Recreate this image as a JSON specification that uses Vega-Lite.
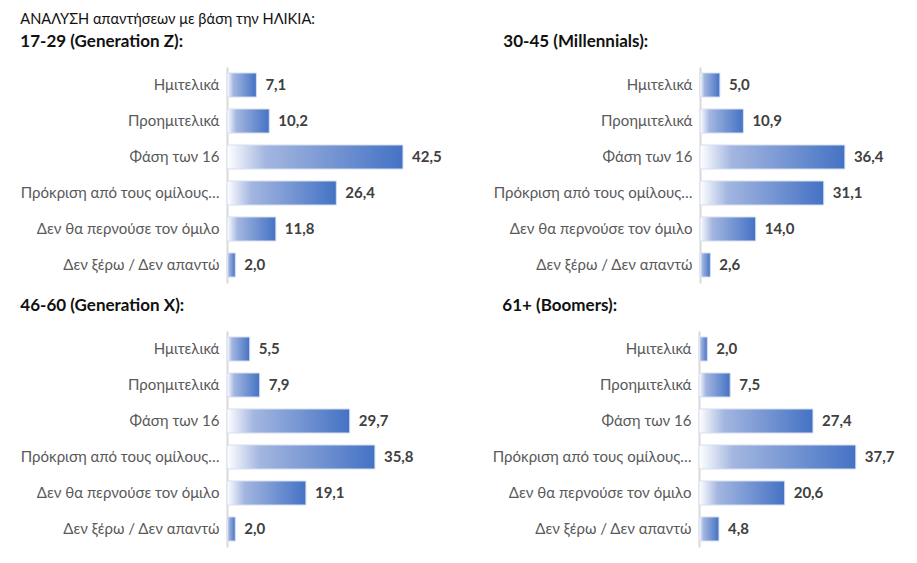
{
  "$schema": "https://vega.github.io/schema/vega-lite/v6.json",
  "padding": {"left": 20, "top": 12, "right": 5, "bottom": 5},
  "background": "white",
  "title": {"text": "ΑΝΑΛΥΣΗ απαντήσεων με βάση την ΗΛΙΚΙΑ:", "anchor": "start", "frame": "bounds", "fontSize": 14.6, "fontWeight": "normal", "font": "Lato", "color": "#111111", "offset": 6},
  "config": {
    "locale": {"number": {"decimal": ",", "thousands": ".", "grouping": [3], "currency": ["", " €"]}},
    "view": {"stroke": null},
    "font": "Lato"
  },
  "datasets": {
    "survey": [
      {"group": "17-29 (Generation Z):", "category": "Ημιτελικά", "value": 7.1},
      {"group": "17-29 (Generation Z):", "category": "Προημιτελικά", "value": 10.2},
      {"group": "17-29 (Generation Z):", "category": "Φάση των 16", "value": 42.5},
      {"group": "17-29 (Generation Z):", "category": "Πρόκριση από τους ομίλους…", "value": 26.4},
      {"group": "17-29 (Generation Z):", "category": "Δεν θα περνούσε τον όμιλο", "value": 11.8},
      {"group": "17-29 (Generation Z):", "category": "Δεν ξέρω / Δεν απαντώ", "value": 2.0},
      {"group": "30-45 (Millennials):", "category": "Ημιτελικά", "value": 5.0},
      {"group": "30-45 (Millennials):", "category": "Προημιτελικά", "value": 10.9},
      {"group": "30-45 (Millennials):", "category": "Φάση των 16", "value": 36.4},
      {"group": "30-45 (Millennials):", "category": "Πρόκριση από τους ομίλους…", "value": 31.1},
      {"group": "30-45 (Millennials):", "category": "Δεν θα περνούσε τον όμιλο", "value": 14.0},
      {"group": "30-45 (Millennials):", "category": "Δεν ξέρω / Δεν απαντώ", "value": 2.6},
      {"group": "46-60 (Generation X):", "category": "Ημιτελικά", "value": 5.5},
      {"group": "46-60 (Generation X):", "category": "Προημιτελικά", "value": 7.9},
      {"group": "46-60 (Generation X):", "category": "Φάση των 16", "value": 29.7},
      {"group": "46-60 (Generation X):", "category": "Πρόκριση από τους ομίλους…", "value": 35.8},
      {"group": "46-60 (Generation X):", "category": "Δεν θα περνούσε τον όμιλο", "value": 19.1},
      {"group": "46-60 (Generation X):", "category": "Δεν ξέρω / Δεν απαντώ", "value": 2.0},
      {"group": "61+ (Boomers):", "category": "Ημιτελικά", "value": 2.0},
      {"group": "61+ (Boomers):", "category": "Προημιτελικά", "value": 7.5},
      {"group": "61+ (Boomers):", "category": "Φάση των 16", "value": 27.4},
      {"group": "61+ (Boomers):", "category": "Πρόκριση από τους ομίλους…", "value": 37.7},
      {"group": "61+ (Boomers):", "category": "Δεν θα περνούσε τον όμιλο", "value": 20.6},
      {"group": "61+ (Boomers):", "category": "Δεν ξέρω / Δεν απαντώ", "value": 4.8}
    ]
  },
  "data": {"name": "survey"},
  "spacing": 14,
  "vconcat": [
    {
      "spacing": 51,
      "hconcat": [
        {
          "title": {"text": "17-29 (Generation Z):", "anchor": "start", "frame": "bounds", "fontSize": 17, "fontWeight": "bold", "color": "#111111", "offset": 16},
          "width": 200, "height": 216,
          "transform": [{"filter": "datum.group === '17-29 (Generation Z):'"}],
          "encoding": {
            "y": {"field": "category", "type": "nominal", "sort": null, "scale": {"paddingInner": 0.333, "paddingOuter": 0.167},
                  "axis": {"title": null, "ticks": false, "domainColor": "#d9d9d9", "domainWidth": 2, "labelPadding": 8, "labelFontSize": 15, "labelColor": "#595959", "labelLimit": 300}},
            "x": {"field": "value", "type": "quantitative", "scale": {"domain": [0, 48.3], "nice": false}, "axis": null}
          },
          "layer": [
            {"mark": {"type": "bar", "stroke": "#d6def0", "strokeWidth": 1, "color": {"gradient": "linear", "x1": 0, "y1": 0, "x2": 1, "y2": 0, "stops": [{"offset": 0, "color": "#ffffff"}, {"offset": 0.22, "color": "#a3b6e0"}, {"offset": 1, "color": "#4472c4"}]}}},
            {"mark": {"type": "text", "align": "left", "dx": 9, "fontSize": 15, "fontWeight": "bold", "color": "#404040"}, "encoding": {"text": {"field": "value", "type": "quantitative", "format": ".1f"}}}
          ]
        },
        {
          "title": {"text": "30-45 (Millennials):", "anchor": "start", "frame": "bounds", "fontSize": 17, "fontWeight": "bold", "color": "#111111", "offset": 16, "dx": 10},
          "width": 200, "height": 216,
          "transform": [{"filter": "datum.group === '30-45 (Millennials):'"}],
          "encoding": {
            "y": {"field": "category", "type": "nominal", "sort": null, "scale": {"paddingInner": 0.333, "paddingOuter": 0.167},
                  "axis": {"title": null, "ticks": false, "domainColor": "#d9d9d9", "domainWidth": 2, "labelPadding": 8, "labelFontSize": 15, "labelColor": "#595959", "labelLimit": 300}},
            "x": {"field": "value", "type": "quantitative", "scale": {"domain": [0, 50.25], "nice": false}, "axis": null}
          },
          "layer": [
            {"mark": {"type": "bar", "stroke": "#d6def0", "strokeWidth": 1, "color": {"gradient": "linear", "x1": 0, "y1": 0, "x2": 1, "y2": 0, "stops": [{"offset": 0, "color": "#ffffff"}, {"offset": 0.22, "color": "#a3b6e0"}, {"offset": 1, "color": "#4472c4"}]}}},
            {"mark": {"type": "text", "align": "left", "dx": 9, "fontSize": 15, "fontWeight": "bold", "color": "#404040"}, "encoding": {"text": {"field": "value", "type": "quantitative", "format": ".1f"}}}
          ]
        }
      ]
    },
    {
      "spacing": 65,
      "hconcat": [
        {
          "title": {"text": "46-60 (Generation X):", "anchor": "start", "frame": "bounds", "fontSize": 17, "fontWeight": "bold", "color": "#111111", "offset": 16},
          "width": 200, "height": 216,
          "transform": [{"filter": "datum.group === '46-60 (Generation X):'"}],
          "encoding": {
            "y": {"field": "category", "type": "nominal", "sort": null, "scale": {"paddingInner": 0.333, "paddingOuter": 0.167},
                  "axis": {"title": null, "ticks": false, "domainColor": "#d9d9d9", "domainWidth": 2, "labelPadding": 8, "labelFontSize": 15, "labelColor": "#595959", "labelLimit": 300}},
            "x": {"field": "value", "type": "quantitative", "scale": {"domain": [0, 48.4], "nice": false}, "axis": null}
          },
          "layer": [
            {"mark": {"type": "bar", "stroke": "#d6def0", "strokeWidth": 1, "color": {"gradient": "linear", "x1": 0, "y1": 0, "x2": 1, "y2": 0, "stops": [{"offset": 0, "color": "#ffffff"}, {"offset": 0.22, "color": "#a3b6e0"}, {"offset": 1, "color": "#4472c4"}]}}},
            {"mark": {"type": "text", "align": "left", "dx": 9, "fontSize": 15, "fontWeight": "bold", "color": "#404040"}, "encoding": {"text": {"field": "value", "type": "quantitative", "format": ".1f"}}}
          ]
        },
        {
          "title": {"text": "61+ (Boomers):", "anchor": "start", "frame": "bounds", "fontSize": 17, "fontWeight": "bold", "color": "#111111", "offset": 16, "dx": 10},
          "width": 200, "height": 216,
          "transform": [{"filter": "datum.group === '61+ (Boomers):'"}],
          "encoding": {
            "y": {"field": "category", "type": "nominal", "sort": null, "scale": {"paddingInner": 0.333, "paddingOuter": 0.167},
                  "axis": {"title": null, "ticks": false, "domainColor": "#d9d9d9", "domainWidth": 2, "labelPadding": 8, "labelFontSize": 15, "labelColor": "#595959", "labelLimit": 300}},
            "x": {"field": "value", "type": "quantitative", "scale": {"domain": [0, 48.08], "nice": false}, "axis": null}
          },
          "layer": [
            {"mark": {"type": "bar", "stroke": "#d6def0", "strokeWidth": 1, "color": {"gradient": "linear", "x1": 0, "y1": 0, "x2": 1, "y2": 0, "stops": [{"offset": 0, "color": "#ffffff"}, {"offset": 0.22, "color": "#a3b6e0"}, {"offset": 1, "color": "#4472c4"}]}}},
            {"mark": {"type": "text", "align": "left", "dx": 9, "fontSize": 15, "fontWeight": "bold", "color": "#404040"}, "encoding": {"text": {"field": "value", "type": "quantitative", "format": ".1f"}}}
          ]
        }
      ]
    }
  ]
}
